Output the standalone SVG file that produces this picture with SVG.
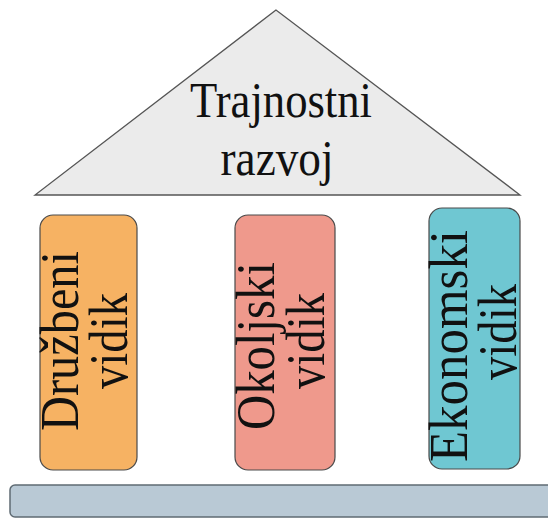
<svg xmlns="http://www.w3.org/2000/svg" width="548" height="518" viewBox="0 0 548 518">
<style>
.t{font-family:"Liberation Serif","Times New Roman",serif;fill:#111;}
.v{font-size:54px;text-anchor:middle;}
.pil{stroke:#4a4a4a;stroke-width:1.2;}
</style>
<rect width="548" height="518" fill="#fff"/>
<g id="roof">
<polygon points="276,10 35,195 520,195" fill="#ebebeb" stroke="#555" stroke-width="1.3"/>
<text class="t" x="281" y="117" font-size="50" text-anchor="middle" textLength="182" lengthAdjust="spacingAndGlyphs">Trajnostni</text>
<text class="t" x="277" y="175" font-size="50" text-anchor="middle" textLength="113" lengthAdjust="spacingAndGlyphs">razvoj</text>
</g>
<g id="druzbeni">
<rect class="pil" x="40" y="215" width="97" height="255" rx="13" fill="#f6b263"/>
<text class="t v" transform="translate(78,341) rotate(-90)" textLength="180" lengthAdjust="spacingAndGlyphs">Družbeni</text>
<text class="t v" transform="translate(127,341) rotate(-90)" textLength="96" lengthAdjust="spacingAndGlyphs">vidik</text>
</g>
<g id="okoljski">
<rect class="pil" x="235" y="215" width="100" height="255" rx="13" fill="#ef998c"/>
<text class="t v" transform="translate(274,346) rotate(-90)" textLength="168" lengthAdjust="spacingAndGlyphs">Okoljski</text>
<text class="t v" transform="translate(324,341) rotate(-90)" textLength="96" lengthAdjust="spacingAndGlyphs">vidik</text>
</g>
<g id="ekonomski">
<rect class="pil" x="429" y="208" width="91" height="261" rx="13" fill="#6fc7d2"/>
<text class="t v" transform="translate(467,346) rotate(-90)" textLength="232" lengthAdjust="spacingAndGlyphs">Ekonomski</text>
<text class="t v" transform="translate(516,332) rotate(-90)" textLength="96" lengthAdjust="spacingAndGlyphs">vidik</text>
</g>
<g id="base">
<rect x="10" y="485" width="560" height="32" rx="5" fill="#b9c9d5" stroke="#5f6b73" stroke-width="1.5"/>
</g>
<g id="connectors"></g>
</svg>
